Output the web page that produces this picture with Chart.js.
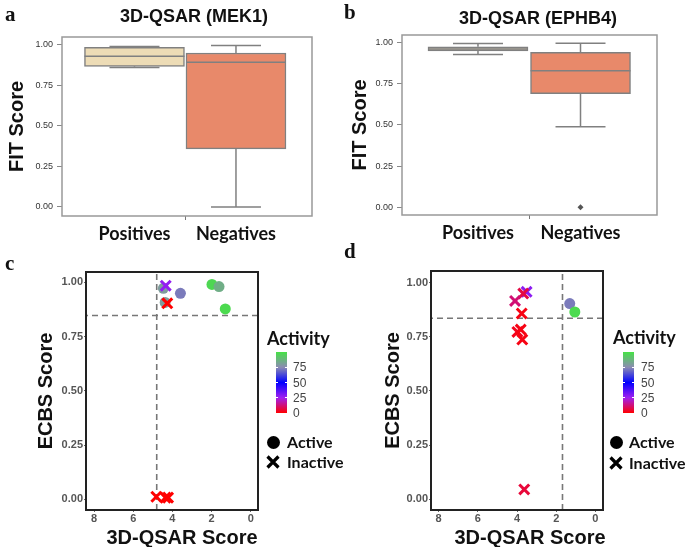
<!DOCTYPE html>
<html>
<head>
<meta charset="utf-8">
<script src="https://cdn.jsdelivr.net/npm/chart.js@4.4.1/dist/chart.umd.min.js"></script>
<style>
  html, body { margin: 0; padding: 0; background: #fff; }
  body { width: 685px; height: 547px; position: relative; overflow: hidden; font-family: "Liberation Sans", Arial, sans-serif; }
  .abs { position: absolute; }
  canvas { position: absolute; }
  .letter { position: absolute; font-family: "Liberation Serif", serif; font-weight: bold; font-size: 21px; color: #111; line-height: 1; }
  .ptitle { position: absolute; font-family: "Liberation Sans", Arial, sans-serif; font-weight: bold; font-size: 18px; color: #111; white-space: nowrap; transform: translate(-50%, -50%); line-height: 1; }
  .xtitle { position: absolute; font-family: "Liberation Sans", Arial, sans-serif; font-weight: bold; font-size: 20px; color: #111; white-space: nowrap; transform: translate(-50%, -50%); line-height: 1; }
  .legtitle { position: absolute; font-family: Lato, "Open Sans", sans-serif; font-weight: bold; font-size: 18px; color: #111; white-space: nowrap; transform: translateY(-50%); line-height: 1; }
  .legtext { position: absolute; font-family: Lato, "Open Sans", sans-serif; font-weight: bold; font-size: 16px; color: #111; white-space: nowrap; transform: translateY(-50%); line-height: 1; }
  .cbtick { position: absolute; font-family: "Liberation Sans", Arial, sans-serif; font-size: 12px; color: #444; white-space: nowrap; transform: translateY(-50%); line-height: 1; }
</style>
</head>
<body>
<canvas id="chartA" width="340" height="245" style="left:0;top:0"></canvas>
<canvas id="chartB" width="345" height="245" style="left:340px;top:0"></canvas>
<canvas id="chartC" width="340" height="297" style="left:0;top:250px"></canvas>
<canvas id="chartD" width="345" height="297" style="left:340px;top:250px"></canvas>

<div class="letter" style="left:5px;top:4px">a</div>
<div class="letter" style="left:344px;top:2px">b</div>
<div class="letter" style="left:5px;top:253px">c</div>
<div class="letter" style="left:344px;top:241px">d</div>

<div class="ptitle" style="left:194px;top:16px">3D-QSAR (MEK1)</div>
<div class="ptitle" style="left:538px;top:18px">3D-QSAR (EPHB4)</div>
<div class="xtitle" style="left:182px;top:537px">3D-QSAR Score</div>
<div class="xtitle" style="left:530px;top:537px">3D-QSAR Score</div>

<div id="legendC"></div>
<div id="legendD"></div>

<script>
// ---------------- DATA ----------------
// Panels a & b: box plots of FIT score
const boxCategories = ['Positives', 'Negatives'];
const aMin = [0.860, 0.000];
const aQ1  = [0.868, 0.358];
const aMed = [0.930, 0.893];
const aQ3  = [0.985, 0.950];
const aMax = [0.991, 0.997];

const bMin = [0.929, 0.490];
const bQ1  = [0.951, 0.690];
const bMed = [0.962, 0.830];
const bQ3  = [0.975, 0.942];
const bMax = [0.996, 0.997];
const bOutlierCategory = [1];
const bOutlierValue = [0.0];

const fitTicks = [0, 0.25, 0.5, 0.75, 1.0];
const ecbsTicks = [0, 0.25, 0.5, 0.75, 1.0];
const qsarTicks = [8, 6, 4, 2, 0];
const activityTicks = [0, 25, 50, 75];

// Panel c: MEK1 scatter
const cActiveX   = [4.46, 3.59, 1.98, 1.62, 1.30, 4.37];
const cActiveY   = [0.972, 0.949, 0.990, 0.980, 0.877, 0.907];
const cActiveAct = [80, 72, 97, 85, 98, 80];
const cInactiveX   = [4.34, 4.26, 4.82, 4.35, 4.22];
const cInactiveY   = [0.984, 0.903, 0.012, 0.008, 0.008];
const cInactiveAct = [27, 0, 0, 0, 0];
const cCutoffQsar = 4.80;
const cCutoffEcbs = 0.847;

// Panel d: EPHB4 scatter
const dActiveX   = [1.31, 1.05];
const dActiveY   = [0.903, 0.864];
const dActiveAct = [72, 98];
const dInactiveX   = [3.51, 3.68, 4.10, 3.76, 3.98, 3.81, 3.73, 3.63];
const dInactiveY   = [0.957, 0.949, 0.915, 0.857, 0.772, 0.783, 0.737, 0.046];
const dInactiveAct = [28, 7, 12, 2, 3, 2, 2, 6];
const dCutoffQsar = 1.68;
const dCutoffEcbs = 0.835;

// ---------------- STYLE HELPERS ----------------
const activityStops = [[0,[255,0,0]],[25,[160,32,240]],[50,[0,0,255]],[75,[140,140,178]],[100,[70,225,70]]];
function activityColor(v) {
  for (let i = 0; i < activityStops.length - 1; i++) {
    const [v0, c0] = activityStops[i], [v1, c1] = activityStops[i+1];
    if (v <= v1) {
      const t = Math.max(0, (v - v0) / (v1 - v0));
      const c = c0.map((k, j) => Math.round(k + (c1[j] - k) * t));
      return `rgb(${c[0]},${c[1]},${c[2]})`;
    }
  }
  const c = activityStops[activityStops.length-1][1];
  return `rgb(${c[0]},${c[1]},${c[2]})`;
}

Chart.defaults.animation = false;
Chart.defaults.events = [];
Chart.defaults.plugins.legend.display = false;
Chart.defaults.plugins.tooltip.enabled = false;

const framePlugin = {
  id: 'frame',
  afterDatasetsDraw(chart, args, opts) {
    const {ctx, chartArea: {left, top, right, bottom}} = chart;
    ctx.save();
    ctx.strokeStyle = opts.color;
    ctx.lineWidth = opts.width;
    ctx.strokeRect(left, top, right - left, bottom - top);
    ctx.restore();
  }
};

function boxPlugin(mins, meds, maxs, q1s, q3s) {
  return {
    id: 'boxparts',
    beforeDatasetsDraw(chart) {
      const {ctx} = chart;
      const xs = chart.scales.x, ys = chart.scales.y;
      ctx.save();
      ctx.strokeStyle = '#808080';
      ctx.lineWidth = 1.5;
      mins.forEach((mn, i) => {
        const x = xs.getPixelForValue(i);
        const capHalf = 25;
        ctx.beginPath();
        ctx.moveTo(x, ys.getPixelForValue(q3s[i])); ctx.lineTo(x, ys.getPixelForValue(maxs[i]));
        ctx.moveTo(x, ys.getPixelForValue(q1s[i])); ctx.lineTo(x, ys.getPixelForValue(mn));
        ctx.moveTo(x - capHalf, ys.getPixelForValue(maxs[i])); ctx.lineTo(x + capHalf, ys.getPixelForValue(maxs[i]));
        ctx.moveTo(x - capHalf, ys.getPixelForValue(mn)); ctx.lineTo(x + capHalf, ys.getPixelForValue(mn));
        ctx.stroke();
      });
      ctx.restore();
    },
    afterDatasetsDraw(chart) {
      const {ctx} = chart;
      const ys = chart.scales.y;
      const meta = chart.getDatasetMeta(0);
      ctx.save();
      ctx.strokeStyle = '#808080';
      ctx.lineWidth = 1.5;
      meds.forEach((m, i) => {
        const el = meta.data[i];
        const y = ys.getPixelForValue(m);
        ctx.beginPath();
        ctx.moveTo(el.x - el.width / 2, y); ctx.lineTo(el.x + el.width / 2, y);
        ctx.stroke();
      });
      ctx.restore();
    }
  };
}

function boxChart(id, q1, q3, mins, meds, maxs, layout, extraDatasets) {
  const {xmin, xmax, ymin, ymax, yWidth, xHeight, padTop, padRight, titlePad, thickness} = layout;
  return new Chart(document.getElementById(id), {
    type: 'bar',
    data: {
      datasets: [{
        data: boxCategories.map((c, i) => ({x: i, y: [q1[i], q3[i]]})),
        backgroundColor: layout.fills,
        borderColor: '#808080',
        borderWidth: 1.5,
        borderSkipped: false,
        barThickness: thickness,
        order: 1
      }].concat(extraDatasets || [])
    },
    options: {
      responsive: false,
      layout: {padding: {left: 0, top: padTop, right: padRight, bottom: 0}},
      scales: {
        x: {
          type: 'linear', min: xmin, max: xmax, offset: false,
          afterBuildTicks: s => { s.ticks = [0, 0.5, 1].map(v => ({value: v})); },
          ticks: {autoSkip: false, maxRotation: 0, padding: 3,
            callback: v => boxCategories[v] !== undefined ? boxCategories[v] : '',
            font: {family: 'Lato', weight: 'bold', size: 18}, color: '#111'},
          grid: {drawOnChartArea: false, offset: false, tickLength: 4,
            color: ctx => (ctx.tick && ctx.tick.value === 0.5) ? '#777' : 'rgba(0,0,0,0)'},
          border: {display: false},
          afterFit: s => { s.height = xHeight; }
        },
        y: {
          min: ymin, max: ymax,
          afterBuildTicks: s => { s.ticks = fitTicks.map(v => ({value: v})); },
          ticks: {callback: v => Number(v).toFixed(2), font: {family: 'Liberation Sans', size: 9}, color: '#333', padding: 4},
          grid: {drawOnChartArea: false, tickLength: 5, color: '#888'},
          border: {display: false},
          title: {display: true, text: 'FIT Score', color: '#111',
            font: {family: 'Liberation Sans', weight: 'bold', size: 20, lineHeight: 1},
            padding: {top: titlePad, bottom: 0}},
          afterFit: s => { s.width = yWidth; }
        }
      },
      plugins: {frame: {color: '#999', width: 1.5}}
    },
    plugins: [boxPlugin(mins, meds, maxs, q1, q3), framePlugin]
  });
}

boxChart('chartA', aQ1, aQ3, aMin, aMed, aMax, {
  xmin: -0.714, xmax: 1.749, ymin: -0.056, ymax: 1.049,
  yWidth: 62, xHeight: 29, padTop: 37, padRight: 28, titlePad: 7, thickness: 100,
  fills: ['#eddcb6', '#e8896a']
});

boxChart('chartB', bQ1, bQ3, bMin, bMed, bMax, {
  xmin: -0.741, xmax: 1.746, ymin: -0.047, ymax: 1.047,
  yWidth: 62, xHeight: 30, padTop: 35, padRight: 28, titlePad: 10, thickness: 100,
  fills: ['#d9cdb2', '#e8896a']
}, [{
  type: 'scatter',
  data: bOutlierCategory.map((c, i) => ({x: c, y: bOutlierValue[i]})),
  pointStyle: 'rectRot', pointRadius: 3, backgroundColor: '#555', borderColor: '#555', borderWidth: 0,
  order: 0
}]);

function scatterChart(id, act, inact, cut, layout) {
  const {xmin, xmax, ymin, ymax, yWidth, xHeight, padTop, padRight, titlePad} = layout;
  return new Chart(document.getElementById(id), {
    type: 'scatter',
    data: {
      datasets: [
        {
          data: inact.x.map((x, i) => ({x, y: inact.y[i]})),
          pointStyle: 'crossRot', pointRadius: 7, pointBorderWidth: 3,
          borderColor: inact.a.map(activityColor), backgroundColor: inact.a.map(activityColor),
          order: 1
        },
        {
          data: act.x.map((x, i) => ({x, y: act.y[i]})),
          pointStyle: 'circle', pointRadius: 5.5, pointBorderWidth: 0,
          backgroundColor: act.a.map(activityColor), borderColor: act.a.map(activityColor),
          order: 2
        },
        {
          type: 'line',
          data: [{x: cut.qsar, y: ymin}, {x: cut.qsar, y: ymax}],
          borderColor: '#777', borderWidth: 1.6, borderDash: [6, 4], pointRadius: 0, showLine: true, fill: false,
          order: 5
        },
        {
          type: 'line',
          data: [{x: xmin, y: cut.ecbs}, {x: xmax, y: cut.ecbs}],
          borderColor: '#777', borderWidth: 1.6, borderDash: [6, 4], pointRadius: 0, showLine: true, fill: false,
          order: 5
        }
      ]
    },
    options: {
      responsive: false,
      layout: {padding: {left: 0, top: padTop, right: padRight, bottom: 0}},
      scales: {
        x: {
          type: 'linear', reverse: true, min: xmin, max: xmax,
          afterBuildTicks: s => { s.ticks = qsarTicks.map(v => ({value: v})); },
          ticks: {callback: v => String(v), font: {family: 'Liberation Sans', weight: 'bold', size: 11}, color: '#555', padding: 0},
          grid: {drawOnChartArea: false, tickLength: 2, color: '#666'},
          border: {display: false},
          afterFit: s => { s.height = xHeight; }
        },
        y: {
          min: ymin, max: ymax,
          afterBuildTicks: s => { s.ticks = ecbsTicks.map(v => ({value: v})); },
          ticks: {callback: v => Number(v).toFixed(2), font: {family: 'Liberation Sans', weight: 'bold', size: 11}, color: '#555', padding: 1},
          grid: {drawOnChartArea: false, tickLength: 2, color: '#666'},
          border: {display: false},
          title: {display: true, text: 'ECBS Score', color: '#111',
            font: {family: 'Liberation Sans', weight: 'bold', size: 20, lineHeight: 1},
            padding: {top: titlePad, bottom: 0}},
          afterFit: s => { s.width = yWidth; }
        }
      },
      plugins: {frame: {color: '#222', width: 2}}
    },
    plugins: [framePlugin]
  });
}

scatterChart('chartC',
  {x: cActiveX, y: cActiveY, a: cActiveAct},
  {x: cInactiveX, y: cInactiveY, a: cInactiveAct},
  {qsar: cCutoffQsar, ecbs: cCutoffEcbs},
  {xmin: -0.37, xmax: 8.41, ymin: -0.049, ymax: 1.047, yWidth: 86, xHeight: 37, padTop: 22, padRight: 82, titlePad: 36});

scatterChart('chartD',
  {x: dActiveX, y: dActiveY, a: dActiveAct},
  {x: dInactiveX, y: dInactiveY, a: dInactiveAct},
  {qsar: dCutoffQsar, ecbs: dCutoffEcbs},
  {xmin: -0.386, xmax: 8.386, ymin: -0.049, ymax: 1.053, yWidth: 91, xHeight: 37, padTop: 21, padRight: 82, titlePad: 43});

// ---------------- LEGENDS (colour bar + shape key) ----------------
function buildLegend(host, L) {
  const el = document.getElementById(host);
  const grad = 'linear-gradient(to top,' + activityStops.map(([v, c]) => `rgb(${c[0]},${c[1]},${c[2]}) ${v}%`).join(',') + ')';
  let html = `<div class="legtitle" style="left:${L.titleX}px;top:${L.titleY}px">Activity</div>`;
  html += `<div class="abs" style="left:${L.barX}px;top:${L.barTop}px;width:${L.barW}px;height:${L.barH}px;background:${grad}"></div>`;
  activityTicks.forEach(v => {
    const y = L.barTop + L.barH - v / 100 * L.barH;
    if (v > 0) {
      html += `<div class="abs" style="left:${L.barX}px;top:${y - 0.5}px;width:2px;height:1px;background:#fff"></div>`;
      html += `<div class="abs" style="left:${L.barX + L.barW - 2}px;top:${y - 0.5}px;width:2px;height:1px;background:#fff"></div>`;
    }
    html += `<div class="cbtick" style="left:${L.labX}px;top:${y}px">${v}</div>`;
  });
  html += `<div class="abs" style="left:${L.symX - 6.5}px;top:${L.activeY - 6.5}px;width:13px;height:13px;border-radius:50%;background:#000"></div>`;
  html += `<div class="legtext" style="left:${L.textX}px;top:${L.activeY}px">Active</div>`;
  html += `<svg class="abs" style="left:${L.symX - 7}px;top:${L.inactiveY - 7}px" width="14" height="14"><path d="M1.5 1.5 L12.5 12.5 M12.5 1.5 L1.5 12.5" stroke="#000" stroke-width="3.2"/></svg>`;
  html += `<div class="legtext" style="left:${L.textX}px;top:${L.inactiveY}px">Inactive</div>`;
  el.innerHTML = html;
}
buildLegend('legendC', {titleX: 267, titleY: 338, barX: 276, barTop: 352, barW: 11, barH: 61, labX: 293, symX: 273, textX: 287, activeY: 442, inactiveY: 462});
buildLegend('legendD', {titleX: 613, titleY: 337, barX: 623, barTop: 352, barW: 11, barH: 61, labX: 641, symX: 616, textX: 629, activeY: 442, inactiveY: 463});
</script>
</body>
</html>
